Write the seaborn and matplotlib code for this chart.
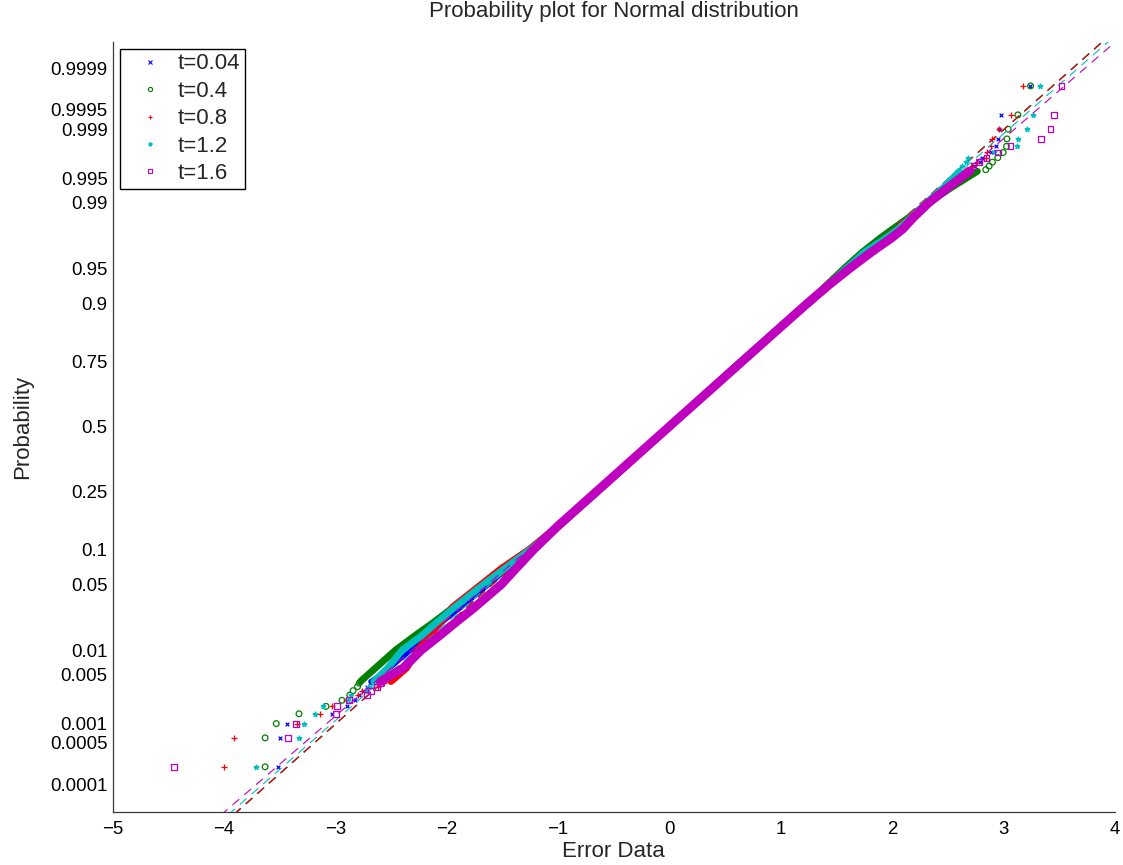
import numpy as np
import matplotlib
matplotlib.use("Agg")
import matplotlib.pyplot as plt
import seaborn as sns
from statistics import NormalDist
from matplotlib.lines import Line2D
from matplotlib.ticker import FixedLocator, NullLocator

# ---------------- data ----------------
N_SAMPLES = 2500
SERIES = ["t=0.04", "t=0.4", "t=0.8", "t=1.2", "t=1.6"]
COLORS = ["#0000ff", "#008000", "#ff0000", "#00bfbf", "#bf00bf"]
MARKERS = ["x", "o", "+", "*", "s"]

# smallest sorted values (ranks 1..10)
LOW_T004 = [-3.515, -3.497, -3.434, -3.033, -2.898, -2.823, -2.785, -2.748, -2.718, -2.688]
LOW_T04 = [-3.63, -3.63, -3.53, -3.326, -3.083, -2.94, -2.87, -2.84, -2.80, -2.785]
LOW_T08 = [-4.00, -3.91, -3.34, -3.135, -3.033, -2.90, -2.80, -2.76, -2.62, -2.56]
LOW_T12 = [-3.71, -3.323, -3.284, -3.182, -3.113, -2.883, -2.86, -2.718, -2.70, -2.66]
LOW_T16 = [-4.447, -3.425, -3.35, -2.994, -2.985, -2.88, -2.718, -2.68, -2.628, -2.60]

# largest sorted values (ranks N-9..N)
HIGH_T004 = [2.70, 2.73, 2.79, 2.807, 2.888, 2.936, 2.948, 2.963, 2.981, 3.24]
HIGH_T04 = [2.84, 2.87, 2.90, 2.948, 2.996, 3.026, 3.03, 3.041, 3.128, 3.242]
HIGH_T08 = [2.673, 2.72, 2.763, 2.84, 2.853, 2.891, 2.897, 2.963, 3.068, 3.173]
HIGH_T12 = [2.60, 2.63, 2.66, 2.678, 2.912, 3.122, 3.128, 3.212, 3.266, 3.325]
HIGH_T16 = [2.70, 2.73, 2.777, 2.846, 2.951, 3.062, 3.335, 3.421, 3.451, 3.52]

# dense body of the samples: value at given probability
CORE_P = [0.004, 0.006, 0.01, 0.015, 0.02, 0.03, 0.05, 0.07, 0.1, 0.15, 0.25, 0.5,
          0.75, 0.85, 0.9, 0.93, 0.95, 0.965, 0.975, 0.98, 0.985, 0.99, 0.9935, 0.996]
CORE_T004 = [-2.684, -2.509, -2.319, -2.168, -2.056, -1.869, -1.621, -1.447, -1.240, -1.002,
             -0.652, 0.0, 0.652, 1.002, 1.240, 1.437, 1.631, 1.842, 1.995, 2.086, 2.188,
             2.329, 2.501, 2.704]
CORE_T04 = [-2.774, -2.639, -2.459, -2.278, -2.136, -1.939, -1.681, -1.497, -1.260, -0.992,
            -0.652, 0.0, 0.642, 1.002, 1.250, 1.417, 1.571, 1.732, 1.895, 2.006, 2.148,
            2.329, 2.531, 2.764]
CORE_T08 = [-2.500, -2.360, -2.259, -2.148, -2.066, -1.949, -1.691, -1.507, -1.260, -1.002,
            -0.642, 0.0, 0.652, 1.002, 1.240, 1.427, 1.601, 1.782, 1.955, 2.056, 2.168,
            2.319, 2.491, 2.674]
CORE_T12 = [-2.654, -2.529, -2.399, -2.218, -2.106, -1.929, -1.671, -1.477, -1.250, -0.992,
            -0.642, 0.0, 0.652, 1.002, 1.240, 1.427, 1.591, 1.752, 1.945, 2.056, 2.168,
            2.309, 2.461, 2.604]
CORE_T16 = [-2.594, -2.389, -2.229, -2.058, -1.936, -1.749, -1.511, -1.377, -1.220, -1.002,
            -0.652, 0.0, 0.652, 1.002, 1.240, 1.437, 1.621, 1.812, 1.995, 2.096, 2.188,
            2.329, 2.501, 2.694]

# fitted reference lines (mean, sigma)
FIT_MU = [0.006, 0.006, 0.006, 0.008, 0.010]
FIT_SIGMA = [0.9705, 0.9700, 0.9710, 0.9830, 0.9990]

XTICKS = [-5, -4, -3, -2, -1, 0, 1, 2, 3, 4]
YTICKS = [0.0001, 0.0005, 0.001, 0.005, 0.01, 0.05, 0.1, 0.25, 0.5, 0.75, 0.9, 0.95,
          0.99, 0.995, 0.999, 0.9995, 0.9999]
YTICKLABELS = ["0.0001", "0.0005", "0.001", "0.005", "0.01", "0.05", "0.1", "0.25", "0.5",
               "0.75", "0.9", "0.95", "0.99", "0.995", "0.999", "0.9995", "0.9999"]
XLIM = (-5, 4)
YLIM = (3.04e-05, 0.9999683)

LOWS = [LOW_T004, LOW_T04, LOW_T08, LOW_T12, LOW_T16]
HIGHS = [HIGH_T004, HIGH_T04, HIGH_T08, HIGH_T12, HIGH_T16]
CORES = [CORE_T004, CORE_T04, CORE_T08, CORE_T12, CORE_T16]

# ---------------- normal probability scale ----------------
_nd = NormalDist()
_ppf = np.vectorize(_nd.inv_cdf, otypes=[float])
_cdf = np.vectorize(_nd.cdf, otypes=[float])


def _fwd(p):
    p = np.clip(np.asarray(p, dtype=float), 1e-14, 1 - 1e-14)
    return _ppf(p)


def _inv(z):
    return _cdf(np.asarray(z, dtype=float))


# ---------------- figure ----------------
sns.set_style("white")
plt.rcParams["font.family"] = ["Liberation Sans", "DejaVu Sans"]
plt.rcParams["axes.unicode_minus"] = True

fig = plt.figure(figsize=(11.23, 8.65), dpi=100)
ax = fig.add_axes([0.1002, 0.06127, 0.89267, 0.89052])
ax.set_yscale("function", functions=(_fwd, _inv))

core_lw = [3.2, 5.0, 5.0, 5.0, 6.4]
msize = [7, 17, 16, 12, 18]

for k, name in enumerate(SERIES):
    c = COLORS[k]
    zb = 2 + k * 0.1
    # dense body
    sns.lineplot(x=CORES[k], y=CORE_P, ax=ax, color=c, lw=core_lw[k], sort=False,
                 estimator=None, solid_capstyle="round", zorder=zb)
    # tails at plotting positions (i-0.5)/n
    ranks = list(range(1, len(LOWS[k]) + 1)) + \
        list(range(N_SAMPLES - len(HIGHS[k]) + 1, N_SAMPLES + 1))
    px = LOWS[k] + HIGHS[k]
    pp = [(r - 0.5) / N_SAMPLES for r in ranks]
    m = MARKERS[k]
    if m in ("o", "s"):
        sns.scatterplot(x=px, y=pp, ax=ax, marker=m, s=msize[k], color=c,
                        facecolor="none", edgecolor=c, linewidth=0.9, zorder=zb + 0.01)
    elif m == "*":
        sns.scatterplot(x=px, y=pp, ax=ax, marker=m, s=msize[k], color=c,
                        edgecolor=c, linewidth=1.0, zorder=zb + 0.01)
    else:
        sns.scatterplot(x=px, y=pp, ax=ax, marker=m, s=msize[k], color=c,
                        linewidth=0.9, zorder=zb + 0.01)
    # reference line (dashed across the axes)
    lx = np.array(XLIM, dtype=float)
    ly = _cdf((lx - FIT_MU[k]) / FIT_SIGMA[k])
    ax.plot(lx, ly, color=c, lw=0.8, dashes=(8, 6), zorder=zb + 0.02)

ax.set_xlim(*XLIM)
ax.set_ylim(*YLIM)
ax.xaxis.set_major_locator(FixedLocator(XTICKS))
ax.set_xticklabels([("\u2212%d" % -v) if v < 0 else str(v) for v in XTICKS])
ax.yaxis.set_major_locator(FixedLocator(YTICKS))
ax.yaxis.set_minor_locator(NullLocator())
ax.set_yticklabels(YTICKLABELS)

for s in ("top", "right"):
    ax.spines[s].set_visible(False)
for s in ("left", "bottom"):
    ax.spines[s].set_color("#3a3a3a")
    ax.spines[s].set_linewidth(0.9)

ax.tick_params(axis="both", direction="in", length=7.2, width=0.8, color="#3a3a3a",
               labelsize=13.4, labelcolor="black")
ax.tick_params(axis="x", pad=6.8)
ax.tick_params(axis="y", pad=3.6)

ax.set_xlabel("Error Data", fontsize=16)
ax.xaxis.set_label_coords(0.5, -0.0376)
ax.set_ylabel("Probability", fontsize=16)
ax.yaxis.set_label_coords(-0.0793, 0.5)
fig.text(613.75 / 1123, 1 - 12 / 865, "Probability plot for Normal distribution",
         ha="center", va="center", fontsize=16)

handles = []
for k, name in enumerate(SERIES):
    mfc = "none" if MARKERS[k] in ("o", "s") else COLORS[k]
    handles.append(Line2D([], [], ls="none", marker=MARKERS[k], color=COLORS[k],
                          markerfacecolor=mfc, markeredgecolor=COLORS[k],
                          markersize=3.0, markeredgewidth=0.8))
leg = ax.legend(handles, SERIES, loc="upper left", bbox_to_anchor=(0.0075, 0.9905),
                borderaxespad=0, fontsize=16, frameon=True, fancybox=False,
                framealpha=1, edgecolor="black", labelspacing=0.29, borderpad=0.2,
                handlelength=2.3, handletextpad=0.1)
leg.get_frame().set_linewidth(1.0)
leg.set_zorder(10)

fig.savefig("out.png", dpi=100)
